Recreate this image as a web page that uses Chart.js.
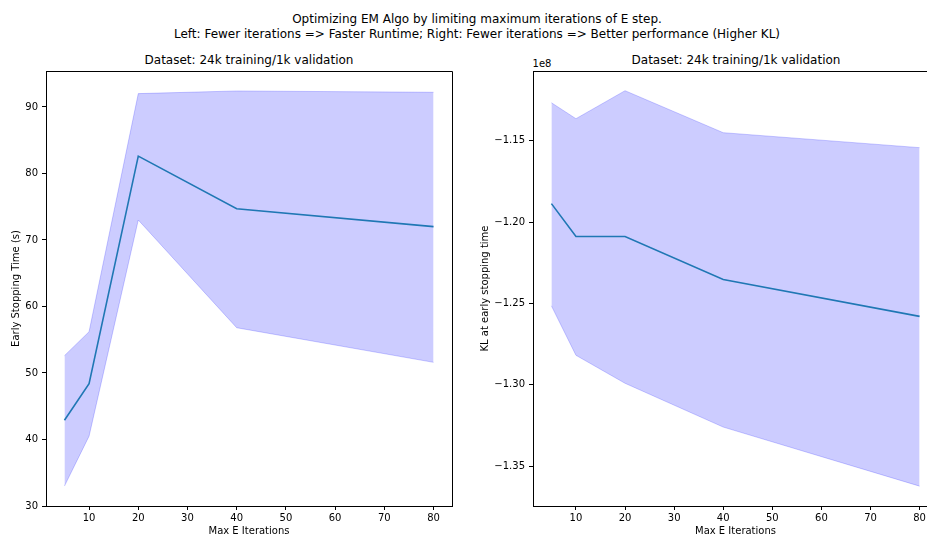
<!DOCTYPE html>
<html>
<head>
<meta charset="utf-8">
<script src="https://cdn.jsdelivr.net/npm/chart.js@4/dist/chart.umd.min.js"></script>
<style>
  html, body { margin: 0; padding: 0; background: #fff; overflow: hidden; }
  #fig { position: relative; width: 927px; height: 536px; overflow: hidden; font-family: "DejaVu Sans", sans-serif; color: #000; }
  .txt { position: absolute; white-space: nowrap; transform: translate(-50%, -50%); }
  canvas { position: absolute; }
</style>
</head>
<body>
<div id="fig">
  <div class="txt" style="left:477px;top:19px;font-size:12px">Optimizing EM Algo by limiting maximum iterations of E step.</div>
  <div class="txt" style="left:477px;top:34px;font-size:12px">Left: Fewer iterations =&gt; Faster Runtime; Right: Fewer iterations =&gt; Better performance (Higher KL)</div>
  <div class="txt" style="left:249px;top:60px;font-size:12px">Dataset: 24k training/1k validation</div>
  <div class="txt" style="left:736px;top:60px;font-size:12px">Dataset: 24k training/1k validation</div>
  <div class="txt" style="left:542px;top:63px;font-size:10px">1e8</div>
  <div id="wrapL" style="position:absolute;left:0;top:61px;width:463px;height:476px"><canvas id="left"></canvas></div>
  <div id="wrapR" style="position:absolute;left:473px;top:61px;width:476px;height:476px"><canvas id="right"></canvas></div>
</div>
<script>
// x values (max E iterations)
const iters = [5, 10, 20, 40, 80];
const xTicks = [10, 20, 30, 40, 50, 60, 70, 80];

// left: early stopping time (s)
const timeMean = [42.9, 48.4, 82.6, 74.7, 72.0];
const timeUpper = [52.6, 56.2, 92.0, 92.4, 92.2];
const timeLower = [33.0, 40.5, 73.0, 56.8, 51.6];
const timeTicks = [30, 40, 50, 60, 70, 80, 90];

// right: KL at early stopping time
const klMean = [-1.1887e8, -1.2089e8, -1.2089e8, -1.2353e8, -1.2580e8];
const klUpper = [-1.1267e8, -1.1365e8, -1.1193e8, -1.1451e8, -1.1543e8];
const klLower = [-1.2515e8, -1.2819e8, -1.2991e8, -1.3260e8, -1.3623e8];
const klTicks = [-1.35e8, -1.30e8, -1.25e8, -1.20e8, -1.15e8];

const FONT = "'DejaVu Sans', sans-serif";
const fillCol = 'rgba(0,0,255,0.2)';
const lineCol = '#1f77b4';

// matplotlib-style box around the axes
const frame = {
  id: 'frame',
  afterDraw(chart) {
    const a = chart.chartArea, ctx = chart.ctx;
    ctx.save();
    ctx.strokeStyle = '#000';
    ctx.lineWidth = 1;
    ctx.beginPath();
    ctx.rect(Math.round(a.left) + 0.5, Math.round(a.top) + 0.5, Math.round(a.right - a.left), Math.round(a.bottom - a.top));
    ctx.stroke();
    ctx.restore();
  }
};

function pts(ys) { return iters.map((x, i) => ({ x: x, y: ys[i] })); }

function makeChart(id, mean, upper, lower, yTicks, yMin, yMax, yLabel, yWidth, titlePad, fmt) {
  return new Chart(document.getElementById(id), {
    type: 'line',
    data: {
      datasets: [
        { data: pts(upper), borderColor: fillCol, borderWidth: 1, backgroundColor: fillCol, fill: '+1', pointRadius: 0, tension: 0, order: 2 },
        { data: pts(lower), borderColor: fillCol, borderWidth: 1, backgroundColor: fillCol, fill: false, pointRadius: 0, tension: 0, order: 1 },
        { data: pts(mean), borderColor: lineCol, borderWidth: 1.6, fill: false, pointRadius: 0, tension: 0, order: 0 }
      ]
    },
    options: {
      responsive: true,
      maintainAspectRatio: false,
      animation: false,
      layout: { padding: { top: 9, right: 11, left: 0, bottom: 0 } },
      plugins: { legend: { display: false }, tooltip: { enabled: false }, title: { display: false } },
      scales: {
        x: {
          type: 'linear', min: 1.25, max: 83.75,
          afterBuildTicks: s => { s.ticks = xTicks.map(v => ({ value: v })); },
          afterFit: s => { s.height = 31; },
          grid: { drawOnChartArea: false, drawTicks: true, tickLength: 4, color: '#000' },
          border: { display: true, color: '#000' },
          ticks: { color: '#000', padding: 2, font: { family: FONT, size: 10 }, maxRotation: 0, autoSkip: false },
          title: { display: true, text: 'Max E Iterations', color: '#000', font: { family: FONT, size: 10 }, padding: { top: 0, bottom: 0 } }
        },
        y: {
          type: 'linear', min: yMin, max: yMax,
          afterBuildTicks: s => { s.ticks = yTicks.map(v => ({ value: v })); },
          afterFit: s => { s.width = yWidth; },
          grid: { drawOnChartArea: false, drawTicks: true, tickLength: 4, color: '#000' },
          border: { display: true, color: '#000' },
          ticks: { color: '#000', padding: 4, font: { family: FONT, size: 10 }, callback: fmt, autoSkip: false },
          title: { display: true, text: yLabel, color: '#000', font: { family: FONT, size: 10 }, padding: { top: titlePad, bottom: 0 } }
        }
      }
    },
    plugins: [frame]
  });
}

makeChart('left', timeMean, timeUpper, timeLower, timeTicks, 30, 95.4,
  'Early Stopping Time (s)', 46, 10, v => String(v));
makeChart('right', klMean, klUpper, klLower, klTicks, -1.3745e8, -1.1072e8,
  'KL at early stopping time', 60, 6, v => {
    const s = (v / 1e8).toFixed(2);
    return s.replace('-', '\u2212');
  });
</script>
</body>
</html>
